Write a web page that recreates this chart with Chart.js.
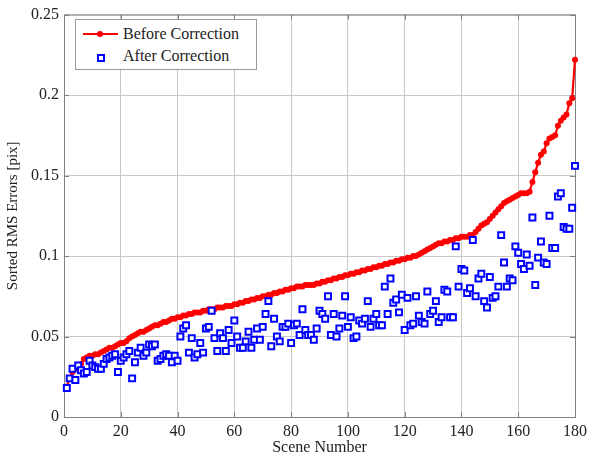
<!DOCTYPE html>
<html lang="en">
<head>
    <meta charset="UTF-8">
    <title>Sorted RMS Errors</title>
    <script src="https://cdn.jsdelivr.net/npm/chart.js"></script>
    <style>
        body { margin: 0; background: #fff; }
        #wrap { position: relative; width: 592px; height: 461px; }
        #legend {
            position: absolute; left: 75px; top: 19px; width: 180px; height: 49px;
            border: 1px solid #999; background: #fff;
            font-family: 'Liberation Serif', 'Times New Roman', serif; font-size: 16px; color: #222;
        }
        .lg-line { position: absolute; left: 7px; top: 13px; width: 35px; height: 2px; background: #f00; }
        .lg-dot { position: absolute; left: 21px; top: 11px; width: 6px; height: 6px; border-radius: 50%; background: #f00; }
        .lg-sq { position: absolute; left: 21px; top: 34px; width: 4px; height: 4px; border: 2px solid #00f; background: #fff; }
        .lg-txt { position: absolute; left: 47px; line-height: 16px; white-space: nowrap; }
    </style>
</head>
<body>
<div id="wrap">
    <canvas id="chart" width="592" height="461"></canvas>
    <!-- legenda dentro l'area del grafico -->
    <div id="legend">
        <div class="lg-line"></div><div class="lg-dot"></div>
        <div class="lg-txt" style="top:6px">Before Correction</div>
        <div class="lg-sq"></div>
        <div class="lg-txt" style="top:28px">After Correction</div>
    </div>
</div>
<script>
// scene numbers 1..180
var scenes = [];
for (var i = 1; i <= 180; i++) scenes.push(i);

// sorted RMS errors before correction (red line)
var beforeCorrection = [
    0.019, 0.024, 0.028, 0.030, 0.031, 0.033, 0.036, 0.037, 0.038, 0.038,
    0.039, 0.039, 0.040, 0.041, 0.042, 0.043, 0.043, 0.044, 0.045, 0.046,
    0.046, 0.047, 0.049, 0.050, 0.051, 0.052, 0.053, 0.053, 0.054, 0.055,
    0.056, 0.057, 0.057, 0.058, 0.059, 0.059, 0.060, 0.061, 0.061, 0.062,
    0.062, 0.063, 0.063, 0.064, 0.064, 0.065, 0.065, 0.065, 0.066, 0.066,
    0.067, 0.067, 0.067, 0.068, 0.068, 0.068, 0.069, 0.069, 0.069, 0.070,
    0.070, 0.071, 0.071, 0.072, 0.072, 0.073, 0.073, 0.074, 0.074, 0.075,
    0.075, 0.076, 0.076, 0.077, 0.077, 0.078, 0.078, 0.079, 0.079, 0.080,
    0.080, 0.081, 0.081, 0.081, 0.082, 0.082, 0.082, 0.082, 0.083, 0.083,
    0.084, 0.084, 0.085, 0.085, 0.086, 0.086, 0.087, 0.087, 0.088, 0.088,
    0.089, 0.089, 0.090, 0.090, 0.091, 0.091, 0.092, 0.092, 0.093, 0.093,
    0.094, 0.094, 0.095, 0.095, 0.096, 0.096, 0.097, 0.097, 0.098, 0.098,
    0.099, 0.099, 0.100, 0.100, 0.101, 0.102, 0.103, 0.104, 0.105, 0.106,
    0.107, 0.108, 0.108, 0.109, 0.109, 0.110, 0.110, 0.111, 0.111, 0.112,
    0.112, 0.112, 0.113, 0.113, 0.115, 0.117, 0.119, 0.120, 0.121, 0.123,
    0.125, 0.127, 0.129, 0.131, 0.133, 0.134, 0.135, 0.136, 0.137, 0.138,
    0.139, 0.139, 0.139, 0.140, 0.146, 0.152, 0.158, 0.163, 0.165, 0.170,
    0.173, 0.174, 0.175, 0.181, 0.184, 0.186, 0.188, 0.195, 0.198, 0.222
];

// RMS errors after correction (blue squares), same scene order
var afterCorrection = [
    0.018, 0.024, 0.030, 0.023, 0.032, 0.029, 0.027, 0.028, 0.035, 0.032,
    0.031, 0.030, 0.030, 0.033, 0.036, 0.037, 0.038, 0.039, 0.028, 0.035,
    0.037, 0.039, 0.041, 0.024, 0.034, 0.040, 0.043, 0.038, 0.040, 0.045,
    0.044, 0.045, 0.035, 0.036, 0.038, 0.039, 0.038, 0.034, 0.038, 0.035,
    0.050, 0.055, 0.057, 0.040, 0.049, 0.037, 0.039, 0.046, 0.040, 0.055,
    0.056, 0.066, 0.049, 0.041, 0.052, 0.049, 0.041, 0.054, 0.046, 0.060,
    0.050, 0.043, 0.043, 0.047, 0.053, 0.043, 0.048, 0.055, 0.048, 0.056,
    0.064, 0.072, 0.044, 0.061, 0.050, 0.047, 0.056, 0.056, 0.058, 0.046,
    0.057, 0.058, 0.051, 0.067, 0.054, 0.051, 0.051, 0.048, 0.055, 0.066,
    0.064, 0.061, 0.075, 0.051, 0.064, 0.050, 0.055, 0.063, 0.075, 0.056,
    0.062, 0.049, 0.050, 0.060, 0.058, 0.061, 0.072, 0.056, 0.061, 0.064,
    0.057, 0.057, 0.081, 0.064, 0.086, 0.071, 0.073, 0.065, 0.076, 0.054,
    0.074, 0.057, 0.058, 0.075, 0.063, 0.059, 0.058, 0.078, 0.064, 0.066,
    0.072, 0.059, 0.062, 0.079, 0.078, 0.062, 0.062, 0.106, 0.081, 0.092,
    0.091, 0.077, 0.080, 0.110, 0.075, 0.086, 0.089, 0.072, 0.068, 0.087,
    0.074, 0.075, 0.081, 0.113, 0.096, 0.081, 0.086, 0.085, 0.106, 0.102,
    0.095, 0.092, 0.101, 0.094, 0.124, 0.082, 0.099, 0.109, 0.096, 0.095,
    0.125, 0.105, 0.105, 0.137, 0.139, 0.118, 0.117, 0.117, 0.130, 0.156
];

var xTicks = [0, 20, 40, 60, 80, 100, 120, 140, 160, 180];
var yTicks = [0, 0.05, 0.1, 0.15, 0.2, 0.25];

var serif = "'Liberation Serif', 'Times New Roman', serif";

function toPoints(values) {
    return values.map(function (v, i) { return { x: scenes[i], y: v }; });
}

// cornice grigia e tacche interne stile MATLAB
var framePlugin = {
    id: 'frame',
    beforeDatasetsDraw: function (chart) {
        var ctx = chart.ctx, a = chart.chartArea;
        var sx = chart.scales.x, sy = chart.scales.y;
        ctx.save();
        ctx.strokeStyle = '#808080';
        ctx.lineWidth = 1;
        ctx.strokeRect(a.left + 0.5, a.top + 0.5, a.right - a.left, a.bottom - a.top);
        ctx.beginPath();
        xTicks.forEach(function (t) {
            var px = Math.round(sx.getPixelForValue(t)) + 0.5;
            ctx.moveTo(px, a.bottom); ctx.lineTo(px, a.bottom - 5);
            ctx.moveTo(px, a.top); ctx.lineTo(px, a.top + 5);
        });
        yTicks.forEach(function (t) {
            var py = Math.round(sy.getPixelForValue(t)) + 0.5;
            ctx.moveTo(a.left, py); ctx.lineTo(a.left + 5, py);
            ctx.moveTo(a.right, py); ctx.lineTo(a.right - 5, py);
        });
        ctx.stroke();
        ctx.restore();
    }
};

var ctx = document.getElementById('chart').getContext('2d');
new Chart(ctx, {
    type: 'line',
    data: {
        datasets: [{
            label: 'Before Correction',
            data: toPoints(beforeCorrection),
            borderColor: '#ff0000',
            backgroundColor: '#ff0000',
            borderWidth: 2.2,
            pointRadius: 3,
            pointBorderWidth: 0,
            pointBackgroundColor: '#ff0000',
            tension: 0,
            clip: false,
            order: 2
        }, {
            label: 'After Correction',
            data: toPoints(afterCorrection),
            showLine: false,
            pointStyle: 'rect',
            pointRadius: 4.2,
            pointBorderWidth: 2,
            pointBorderColor: '#0000ff',
            pointBackgroundColor: '#ffffff',
            borderColor: '#0000ff',
            clip: false,
            order: 1
        }]
    },
    options: {
        responsive: false,
        animation: false,
        layout: { padding: { left: 0, right: 13, top: 10, bottom: 0 } },
        plugins: {
            legend: { display: false },
            tooltip: { enabled: false }
        },
        scales: {
            x: {
                type: 'linear',
                min: 0,
                max: 180,
                afterBuildTicks: function (s) { s.ticks = xTicks.map(function (v) { return { value: v }; }); },
                afterFit: function (s) { s.height = 44; },
                grid: { color: '#c8c8c8', borderDash: [1, 2], drawTicks: false },
                border: { display: false },
                ticks: { color: '#222', padding: 5, maxRotation: 0, font: { family: serif, size: 16 } },
                title: { display: true, text: 'Scene Number', color: '#222', padding: { top: 0 }, font: { family: serif, size: 16 } }
            },
            y: {
                min: 0,
                max: 0.25,
                afterBuildTicks: function (s) { s.ticks = yTicks.map(function (v) { return { value: v }; }); },
                afterFit: function (s) { s.width = 64; },
                grid: { color: '#c8c8c8', borderDash: [1, 2], drawTicks: false },
                border: { display: false },
                ticks: {
                    color: '#222', padding: 5, font: { family: serif, size: 16 },
                    callback: function (v) { return String(+v.toFixed(2)); }
                },
                title: { display: true, text: 'Sorted RMS Errors [pix]', color: '#222', padding: { bottom: 2 }, font: { family: serif, size: 15 } }
            }
        }
    },
    plugins: [framePlugin]
});
</script>
</body>
</html>
